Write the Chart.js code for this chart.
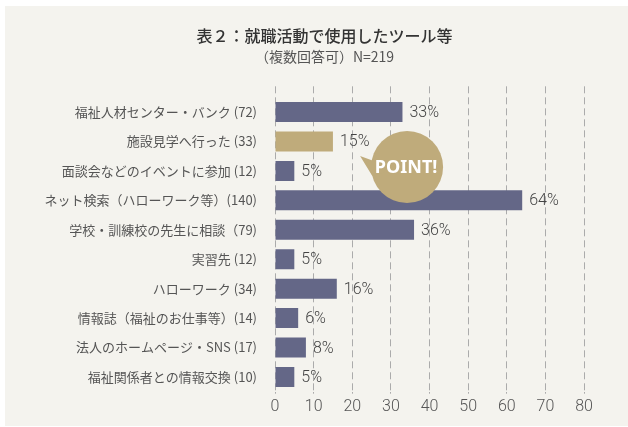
<!DOCTYPE html>
<html lang="ja">
<head>
<meta charset="utf-8">
<script src="https://cdn.jsdelivr.net/npm/chart.js@4.4.0/dist/chart.umd.min.js"></script>
<style>
html, body { margin: 0; padding: 0; background: #fff; overflow: hidden; }
#panel { position: absolute; left: 5px; top: 6px; width: 623px; height: 420px; background: #f4f3ee; }
#toolChart { position: absolute; left: 0; top: 0; }
</style>
</head>
<body>
<div id="panel"></div>
<canvas id="toolChart" width="650" height="427"></canvas>
<script>
// Datos del gráfico
const categories = [
    '福祉人材センター・バンク (72)',
    '施設見学へ行った (33)',
    '面談会などのイベントに参加 (12)',
    'ネット検索（ハローワーク等）(140)',
    '学校・訓練校の先生に相談（79)',
    '実習先 (12)',
    'ハローワーク (34)',
    '情報誌（福祉のお仕事等）(14)',
    '法人のホームページ・SNS (17)',
    '福祉関係者との情報交換 (10)'
];
const percents = [33, 15, 5, 64, 36, 5, 16, 6, 8, 5];
const highlightIndex = 1;
const xTicks = [0, 10, 20, 30, 40, 50, 60, 70, 80];

const titleText = '表２：就職活動で使用したツール等';
const subtitleText = '（複数回答可）N=219';

const barBlue = '#646787';
const barGold = '#bfab7b';
const gridGray = '#ababab';
const numFont = 'Roboto, "Noto Sans", sans-serif';
const jpFont = '"Noto Sans CJK JP", "Noto Sans", sans-serif';

// Etiquetas de porcentaje al final de cada barra
const valueLabels = {
    id: 'valueLabels',
    afterDatasetsDraw(chart) {
        const ctx = chart.ctx;
        const meta = chart.getDatasetMeta(0);
        ctx.save();
        ctx.font = '300 16px ' + numFont;
        ctx.fillStyle = '#444';
        ctx.textAlign = 'left';
        ctx.textBaseline = 'middle';
        meta.data.forEach((bar, i) => {
            ctx.fillText(percents[i] + '%', bar.x + 7, bar.y + 1);
        });
        ctx.restore();
    }
};

// Globo "POINT!"
const pointBubble = {
    id: 'pointBubble',
    afterDatasetsDraw(chart) {
        const { ctx, scales: { x, y } } = chart;
        const cx = x.getPixelForValue(34.2);
        const cy = y.getPixelForValue(1.87);
        const r = 36;
        const a1 = 191 * Math.PI / 180;
        const a2 = 166 * Math.PI / 180;
        ctx.save();
        ctx.fillStyle = barGold;
        ctx.beginPath();
        ctx.arc(cx, cy, r, 0, Math.PI * 2);
        ctx.fill();
        ctx.beginPath();
        ctx.moveTo(cx - 47, cy - 11);
        ctx.lineTo(cx + r * Math.cos(a1), cy + r * Math.sin(a1));
        ctx.lineTo(cx, cy);
        ctx.lineTo(cx + r * Math.cos(a2), cy + r * Math.sin(a2));
        ctx.closePath();
        ctx.fill();
        ctx.font = 'bold 18px "Noto Sans", sans-serif';
        ctx.fillStyle = '#fff';
        ctx.textAlign = 'center';
        ctx.textBaseline = 'middle';
        ctx.fillText('POINT!', cx - 1, cy + 1);
        ctx.restore();
    }
};

const toolChart = new Chart(document.getElementById('toolChart'), {
    type: 'bar',
    data: {
        labels: categories,
        datasets: [{
            data: percents,
            backgroundColor: percents.map((v, i) => i === highlightIndex ? barGold : barBlue),
            borderWidth: 0,
            categoryPercentage: 1,
            barPercentage: 0.68
        }]
    },
    options: {
        indexAxis: 'y',
        responsive: false,
        animation: false,
        layout: {
            padding: { left: 10, right: 11, top: 0, bottom: 0 }
        },
        plugins: {
            legend: { display: false },
            tooltip: { enabled: false },
            title: {
                display: true,
                text: titleText,
                color: '#333',
                font: { family: jpFont, size: 16, weight: '500' },
                padding: { top: 26, bottom: 0 }
            },
            subtitle: {
                display: true,
                text: subtitleText,
                color: '#555',
                font: { family: jpFont, size: 14, weight: 'normal' },
                padding: { top: 3.4, bottom: 20.9 }
            }
        },
        scales: {
            x: {
                position: 'bottom',
                min: xTicks[0],
                max: xTicks[xTicks.length - 1],
                ticks: {
                    stepSize: xTicks[1] - xTicks[0],
                    color: '#555',
                    font: { family: numFont, size: 16, weight: '300' },
                    padding: 4
                },
                grid: { color: gridGray, lineWidth: 1, tickLength: 2 },
                border: { display: false, dash: [7, 4] },
                afterFit(scale) { scale.height = 35.3; }
            },
            x2: {
                type: 'linear',
                position: 'top',
                min: xTicks[0],
                max: xTicks[xTicks.length - 1],
                ticks: { display: false, stepSize: xTicks[1] - xTicks[0] },
                grid: {
                    drawOnChartArea: false,
                    color: gridGray,
                    tickColor: gridGray,
                    tickLength: 11,
                    tickBorderDash: [7, 4]
                },
                border: { display: false },
                afterFit(scale) { scale.height = 11; }
            },
            y: {
                grid: { display: false },
                border: { display: false },
                ticks: {
                    autoSkip: false,
                    color: '#555',
                    font: { family: jpFont, size: 13 },
                    padding: 10
                },
                afterFit(scale) { scale.width = 265; }
            },
            // eje vacío a la derecha, sólo reserva espacio
            y2: {
                type: 'category',
                position: 'right',
                grid: { display: false },
                border: { display: false },
                ticks: { display: false },
                afterFit(scale) { scale.width = 55; }
            }
        }
    },
    plugins: [valueLabels, pointBubble]
});
</script>
</body>
</html>
